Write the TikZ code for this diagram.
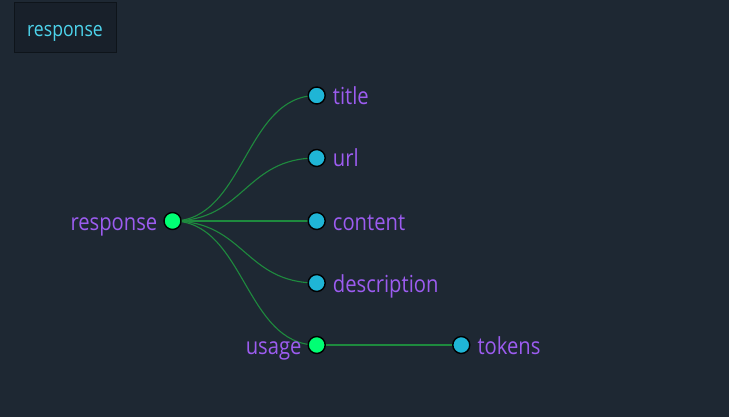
\documentclass[tikz,border=0pt]{standalone}
\usepackage{fontspec}
\setmainfont{Open Sans}
\newfontfamily\lblfont[FakeStretch=0.86]{Open Sans}
\usetikzlibrary{calc,backgrounds}
\definecolor{bg}{HTML}{1E2833}
\definecolor{boxfill}{HTML}{18202A}
\definecolor{boxline}{HTML}{0E141A}
\definecolor{titlecol}{HTML}{4DD4EC}
\definecolor{labelcol}{HTML}{9C5CF0}
\definecolor{leafcol}{HTML}{1FB5D6}
\definecolor{inner}{HTML}{00FF74}
\definecolor{linkcol}{HTML}{1E8A3E}
\begin{document}
\begin{tikzpicture}[x=1pt,y=-1pt,
  leaf/.style={circle,draw=black,line width=1.4pt,fill=leafcol,minimum size=17pt,inner sep=0pt},
  branch/.style={circle,draw=black,line width=1.4pt,fill=inner,minimum size=17pt,inner sep=0pt},
  lbl/.style={text=labelcol,font=\lblfont\fontsize{23.5}{26}\selectfont,inner sep=0pt},
  link/.style={draw=linkcol,line width=1.1pt}]
\useasboundingbox (0,0) rectangle (729,417);
\node[draw=boxline,fill=boxfill,line width=0.8pt,minimum width=102pt,minimum height=50pt,inner sep=0pt,text height=20pt,text depth=0pt,text=titlecol,font=\lblfont\fontsize{20.5}{24}\selectfont] (hdr) at (65,27) {response};
\node[branch] (r) at (172.5,221) {};
\node[leaf] (ti) at (316.7,95.5) {};
\node[leaf] (ur) at (316.7,158) {};
\node[leaf] (co) at (316.7,221) {};
\node[leaf] (de) at (316.7,283) {};
\node[branch] (us) at (316.7,345) {};
\node[leaf] (tk) at (461.3,345) {};
\node[lbl,anchor=base east] (rl) at ($(r.center)+(-15,9)$) {response};
\node[lbl,anchor=base west] (til) at ($(ti.center)+(16,9)$) {title};
\node[lbl,anchor=base west] (url) at ($(ur.center)+(16,9)$) {url};
\node[lbl,anchor=base west] (col) at ($(co.center)+(16,9)$) {content};
\node[lbl,anchor=base west] (del) at ($(de.center)+(16,9)$) {description};
\node[lbl,anchor=base east] (usl) at ($(us.center)+(-15,9)$) {usage};
\node[lbl,anchor=base west] (tkl) at ($(tk.center)+(16,9)$) {tokens};
\begin{scope}[on background layer]
\fill[bg] (0,0) rectangle (729,417);
\foreach \c in {ti,ur,co,de,us}{
  \draw[link] (r.center) .. controls ($(r.center)!0.5!(r.center -| \c.center)$) and ($(\c.center)!0.5!(\c.center -| r.center)$) .. (\c.center);
}
\draw[link] (us.center) -- (tk.center);
\end{scope}
\end{tikzpicture}
\end{document}
